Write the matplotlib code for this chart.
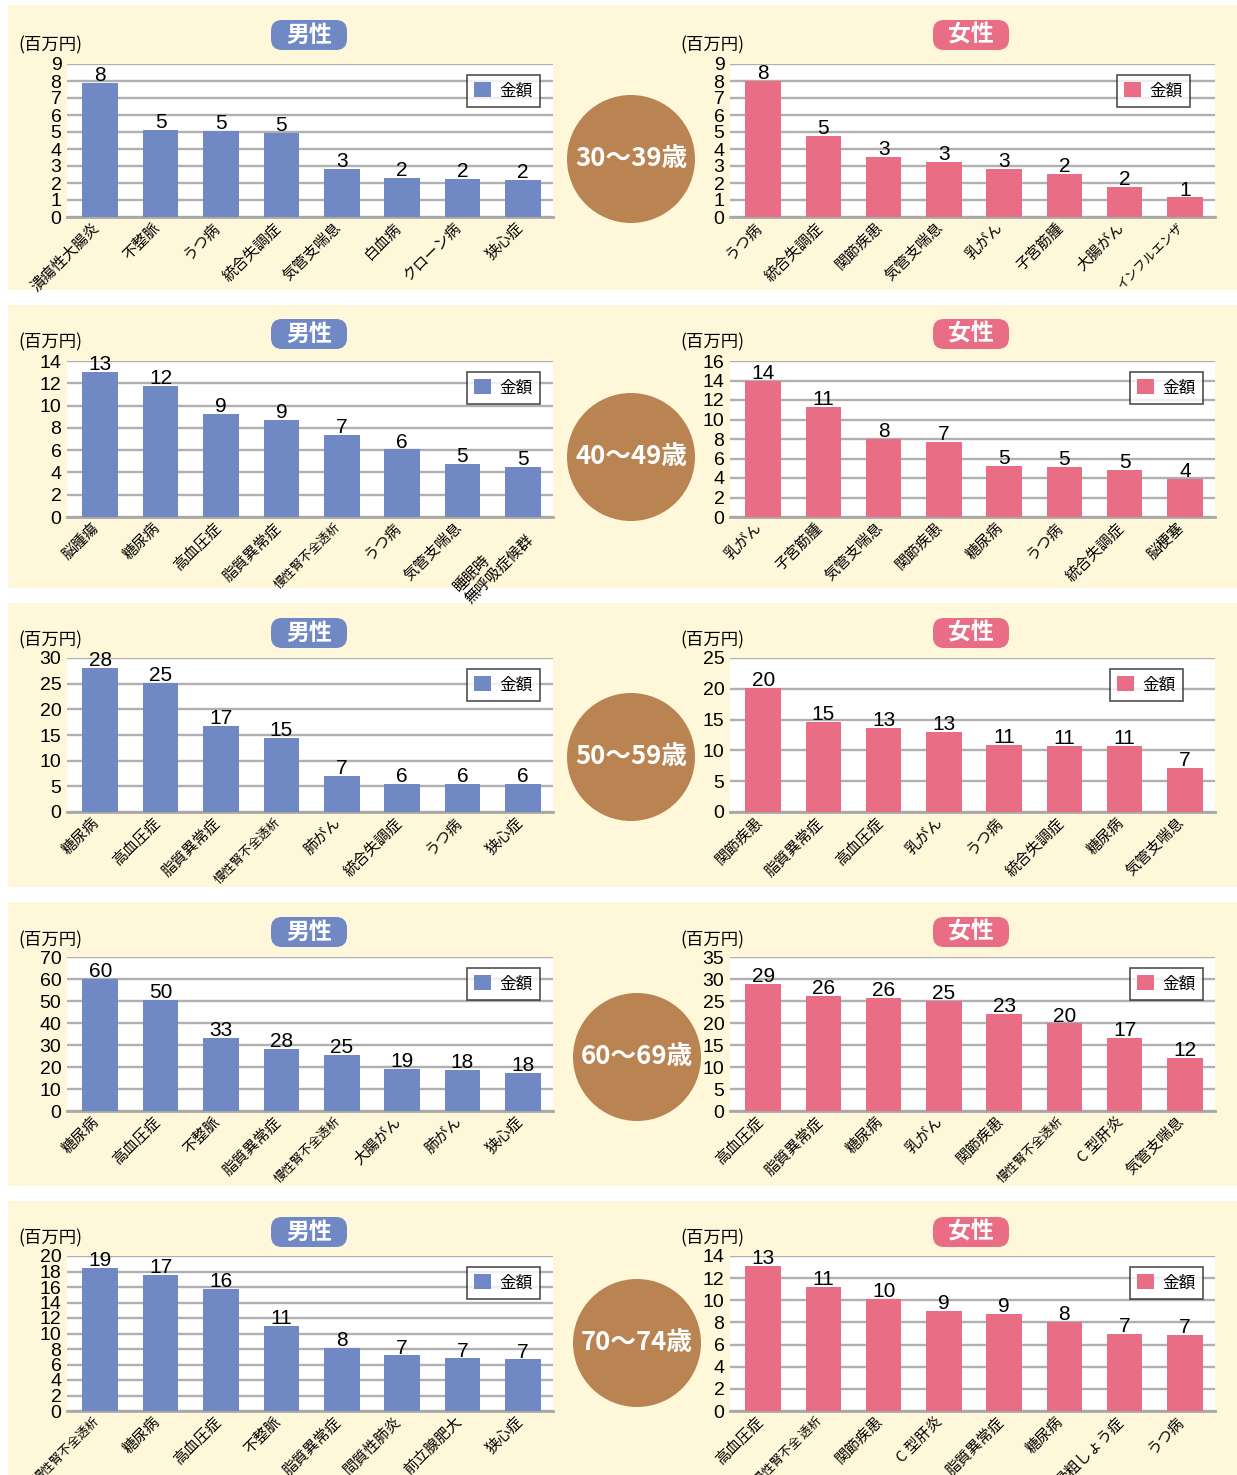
import numpy as np
import matplotlib

matplotlib.use("Agg")
import matplotlib.pyplot as plt
from matplotlib import font_manager
from matplotlib.patches import Circle, FancyBboxPatch, Rectangle
from matplotlib.transforms import ScaledTranslation

plt.rcParams["font.family"] = ["Noto Sans CJK JP", "DejaVu Sans"]

_installed = {f.name for f in font_manager.fontManager.ttflist}
NUM_FONT = "Liberation Sans Narrow" if "Liberation Sans Narrow" in _installed else "Liberation Sans"

# ---- data (百万円) ----
age_groups = ["30〜39歳", "40〜49歳", "50〜59歳", "60〜69歳", "70〜74歳"]

male_30_names = ["潰瘍性大腸炎", "不整脈", "うつ病", "統合失調症", "気管支喘息", "白血病", "クローン病", "狭心症"]
male_30_vals = [7.87, 5.13, 5.07, 4.97, 2.85, 2.32, 2.26, 2.20]
male_30_text = ["8", "5", "5", "5", "3", "2", "2", "2"]
female_30_names = ["うつ病", "統合失調症", "関節疾患", "気管支喘息", "乳がん", "子宮筋腫", "大腸がん", "インフルエンザ"]
female_30_vals = [7.99, 4.78, 3.55, 3.26, 2.85, 2.55, 1.79, 1.15]
female_30_text = ["8", "5", "3", "3", "3", "2", "2", "1"]

male_40_names = ["脳腫瘍", "糖尿病", "高血圧症", "脂質異常症", "慢性腎不全透析", "うつ病", "気管支喘息", "睡眠時\n無呼吸症候群"]
male_40_vals = [12.99, 11.72, 9.25, 8.70, 7.33, 6.06, 4.78, 4.50]
male_40_text = ["13", "12", "9", "9", "7", "6", "5", "5"]
female_40_names = ["乳がん", "子宮筋腫", "気管支喘息", "関節疾患", "糖尿病", "うつ病", "統合失調症", "脳梗塞"]
female_40_vals = [14.0, 11.3, 8.03, 7.68, 5.19, 5.09, 4.78, 3.94]
female_40_text = ["14", "11", "8", "7", "5", "5", "5", "4"]

male_50_names = ["糖尿病", "高血圧症", "脂質異常症", "慢性腎不全透析", "肺がん", "統合失調症", "うつ病", "狭心症"]
male_50_vals = [28.1, 25.2, 16.8, 14.4, 6.98, 5.41, 5.41, 5.41]
male_50_text = ["28", "25", "17", "15", "7", "6", "6", "6"]
female_50_names = ["関節疾患", "脂質異常症", "高血圧症", "乳がん", "うつ病", "統合失調症", "糖尿病", "気管支喘息"]
female_50_vals = [20.2, 14.6, 13.6, 13.0, 10.9, 10.7, 10.7, 7.1]
female_50_text = ["20", "15", "13", "13", "11", "11", "11", "7"]

male_60_names = ["糖尿病", "高血圧症", "不整脈", "脂質異常症", "慢性腎不全透析", "大腸がん", "肺がん", "狭心症"]
male_60_vals = [60.1, 50.6, 33.3, 28.2, 25.5, 19.1, 18.7, 17.3]
male_60_text = ["60", "50", "33", "28", "25", "19", "18", "18"]
female_60_names = ["高血圧症", "脂質異常症", "糖尿病", "乳がん", "関節疾患", "慢性腎不全透析", "C 型肝炎", "気管支喘息"]
female_60_vals = [28.9, 26.1, 25.7, 25.0, 22.0, 19.9, 16.5, 12.1]
female_60_text = ["29", "26", "26", "25", "23", "20", "17", "12"]

male_70_names = ["慢性腎不全透析", "糖尿病", "高血圧症", "不整脈", "脂質異常症", "間質性肺炎", "前立腺肥大", "狭心症"]
male_70_vals = [18.5, 17.6, 15.8, 10.96, 8.09, 7.17, 6.78, 6.65]
male_70_text = ["19", "17", "16", "11", "8", "7", "7", "7"]
female_70_names = ["高血圧症", "慢性腎不全 透析", "関節疾患", "C 型肝炎", "脂質異常症", "糖尿病", "骨粗しょう症", "うつ病"]
female_70_vals = [13.06, 11.23, 10.13, 9.04, 8.76, 8.03, 6.94, 6.85]
female_70_text = ["13", "11", "10", "9", "9", "8", "7", "7"]

male_axis = [(9, 1), (14, 2), (30, 5), (70, 10), (20, 2)]
female_axis = [(9, 1), (16, 2), (25, 5), (35, 5), (14, 2)]

male_data = [
    (male_30_names, male_30_vals, male_30_text),
    (male_40_names, male_40_vals, male_40_text),
    (male_50_names, male_50_vals, male_50_text),
    (male_60_names, male_60_vals, male_60_text),
    (male_70_names, male_70_vals, male_70_text),
]
female_data = [
    (female_30_names, female_30_vals, female_30_text),
    (female_40_names, female_40_vals, female_40_text),
    (female_50_names, female_50_vals, female_50_text),
    (female_60_names, female_60_vals, female_60_text),
    (female_70_names, female_70_vals, female_70_text),
]

# ---- layout (pixels) ----
W, H = 1237, 1475
BLUE = "#7089C5"
PINK = "#EA6D86"
CREAM = "#FEF7DA"
BROWN = "#BA8352"

row_bands = [(5, 290), (305, 588), (603, 887), (902, 1186), (1201, 1475)]
plot_top = [64, 361, 658, 957, 1256]
plot_bottom = [217, 517, 812, 1111, 1411]
badge_y = [35, 334, 633, 932, 1232]
unit_y = [45, 342, 640, 940, 1238]
circle_xy = [(631, 159), (631, 457), (631, 757), (637, 1057), (637, 1343)]
female_leg_x = [0.948, 0.975, 0.934, 0.975, 0.975]

fig = plt.figure(figsize=(W / 100, H / 100), dpi=100)
fig.patch.set_facecolor("white")

bg = fig.add_axes([0, 0, 1, 1])
bg.set_xlim(0, W)
bg.set_ylim(H, 0)
bg.axis("off")

label_shift = ScaledTranslation(-8 / 100, 0, fig.dpi_scale_trans)


def px_axes(x0, x1, y0, y1):
    return fig.add_axes([x0 / W, 1 - y1 / H, (x1 - x0) / W, (y1 - y0) / H])


def draw_bars(ax, names, vals, texts, ymax, step, color, leg_x):
    x = np.arange(len(names))
    ax.set_facecolor("white")
    ax.bar(x, vals, width=0.59, color=color, label="金額", zorder=3)
    for xi, v, t in zip(x, vals, texts):
        ax.annotate(t, (xi, v), xytext=(0, -1.5), textcoords="offset points",
                    ha="center", va="bottom", fontsize=15, family=NUM_FONT, zorder=4)
    ax.set_xlim(-0.55, len(names) - 0.5)
    ax.set_ylim(0, ymax)
    ax.set_yticks(np.arange(0, ymax + 1, step))
    ax.set_yticklabels([str(v) for v in range(0, ymax + 1, step)],
                       fontsize=14, family=NUM_FONT)
    ax.tick_params(axis="y", length=0, pad=4)
    ax.tick_params(axis="x", length=0, pad=2.5)
    ax.set_xticks(x)
    ax.set_xticklabels(names, rotation=45, ha="right", va="top",
                       rotation_mode="anchor", linespacing=1.2)
    for lab, name in zip(ax.get_xticklabels(), names):
        lab.set_fontsize(9 if len(name) >= 7 and "\n" not in name else 10.8)
        lab.set_multialignment("left")
        lab.set_transform(lab.get_transform() + label_shift)
    ax.yaxis.grid(True, color="#B0B0B0", lw=1.7, zorder=0)
    ax.set_axisbelow(True)
    for side in ("top", "left", "right"):
        ax.spines[side].set_visible(False)
    ax.spines["bottom"].set_color("#A8A8A8")
    ax.spines["bottom"].set_linewidth(2)
    leg = ax.legend(loc="upper right", bbox_to_anchor=(leg_x, 0.93), fontsize=12,
                    frameon=True, fancybox=False, edgecolor="#222222",
                    handlelength=1.0, handleheight=1.0, handletextpad=0.5,
                    borderpad=0.45, borderaxespad=0)
    leg.get_frame().set_linewidth(1.2)
    leg.set_zorder(5)


for i in range(5):
    y0, y1 = row_bands[i]
    bg.add_patch(Rectangle((8, y0), W - 8, y1 - y0, facecolor=CREAM, edgecolor="none"))

    # gender badges
    for bx, txt, col in ((309, "男性", BLUE), (971, "女性", PINK)):
        bg.add_patch(FancyBboxPatch((bx - 38, badge_y[i] - 15), 76, 30,
                                    boxstyle="round,pad=0,rounding_size=11",
                                    facecolor=col, edgecolor="none"))
        bg.text(bx, badge_y[i], txt, ha="center", va="center", fontsize=16.5,
                fontweight="bold", color="white")

    for ux in (50, 712):
        bg.text(ux, unit_y[i], "(百万円)", ha="center", va="center", fontsize=12.5)

    cx, cy = circle_xy[i]
    bg.add_patch(Circle((cx, cy), 64, facecolor=BROWN, edgecolor="none"))
    bg.text(cx, cy, age_groups[i], ha="center", va="center", fontsize=18.5,
            fontweight="bold", color="white")

    ax_m = px_axes(67, 553, plot_top[i], plot_bottom[i])
    names, vals, texts = male_data[i]
    draw_bars(ax_m, names, vals, texts, male_axis[i][0], male_axis[i][1], BLUE, 0.973)

    ax_f = px_axes(730, 1215, plot_top[i], plot_bottom[i])
    names, vals, texts = female_data[i]
    draw_bars(ax_f, names, vals, texts, female_axis[i][0], female_axis[i][1], PINK,
              female_leg_x[i])

fig.savefig("out.png", dpi=100, facecolor="white")
